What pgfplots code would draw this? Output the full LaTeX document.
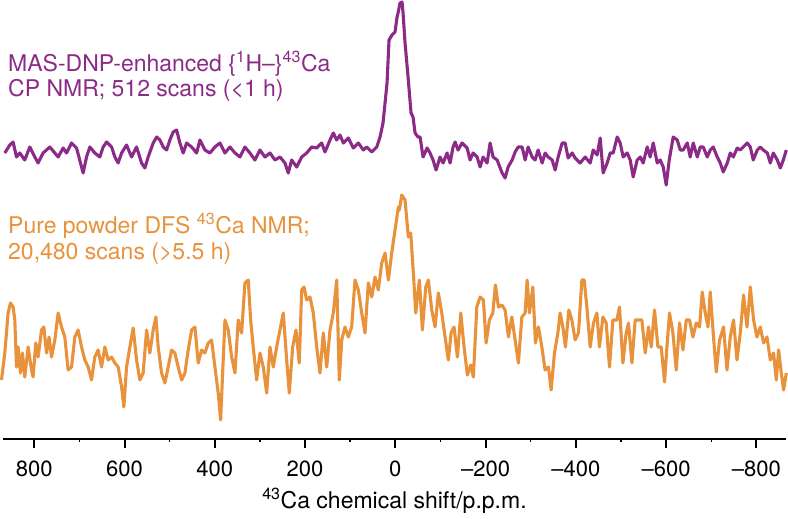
\documentclass[border=0pt]{standalone}
\usepackage{fontspec}
\setmainfont{TeX Gyre Heros}
\usepackage{pgfplots}
\pgfplotsset{compat=1.18}
\definecolor{dnp}{RGB}{140,42,136}
\definecolor{pure}{RGB}{232,146,60}
\begin{document}
\begin{tikzpicture}
\path[use as bounding box] (0,-80pt) rectangle (788pt,439pt);
\begin{axis}[
  at={(3pt,0pt)}, anchor=south west,
  scale only axis, width=783pt, height=439pt,
  x dir=reverse, xmin=-865.6, xmax=869.4, ymin=0, ymax=439,
  clip=false,
  axis x line=bottom, axis y line=none,
  axis line style={-, line width=2pt},
  xtick={800,600,400,200,0,-200,-400,-600,-800},
  xticklabels={800,600,400,200,0,–200,–400,–600,–800},
  minor x tick num=1,
  tick align=outside,
  major tick length=9pt, minor tick length=3pt,
  every major tick/.style={line width=2pt, black},
  every minor tick/.style={line width=1.5pt, black},
  xticklabel style={font=\fontsize{22}{24}\selectfont, anchor=base, yshift=-29pt},
  typeset ticklabels with strut,
  xlabel={\textsuperscript{43}Ca chemical shift/p.p.m.},
  xlabel style={font=\fontsize{23}{25}\selectfont, anchor=base, at={(axis description cs:0.5,0)}, yshift=-70pt},
  line join=round,
]
\addplot[dnp, line width=3.1pt] coordinates {
(865.4,286)(854.3,294)(847.0,297)(839.5,282)(832.2,286)(821.1,279)(810.0,292)(798.9,282)(791.6,276)(780.5,286)
(765.6,292)(754.5,286)(747.2,282)(736.1,291)(728.6,286)(717.5,296)(706.4,291)(695.3,272)(691.8,266)(684.3,282)
(676.9,292)(665.9,286)(654.8,282)(647.4,292)(639.9,297)(628.8,292)(621.5,282)(614.2,276)(606.6,286)(595.6,294)
(584.5,282)(573.4,292)(562.3,276)(555.0,271)(547.7,282)(536.6,296)(529.0,302)(521.7,299)(514.4,292)(506.9,289)
(499.6,299)(492.2,307)(484.7,309)(477.4,296)(470.1,286)(462.5,296)(451.4,292)(440.4,286)(433.0,299)(422.0,289)
(410.9,286)(399.8,292)(388.7,296)(377.6,286)(366.5,292)(355.4,286)(344.3,282)(333.3,292)(322.2,286)(311.1,279)
(300.0,289)(288.9,282)(277.8,286)(266.7,279)(255.7,282)(244.6,276)(237.3,266)(229.7,279)(218.6,272)(207.5,282)
(196.5,286)(185.4,292)(174.3,291)(163.2,296)(155.9,287)(144.8,299)(137.5,306)(129.9,299)(122.6,304)(115.3,296)
(104.2,301)(93.1,291)(82.0,296)(71.0,289)(63.4,292)(52.3,287)(41.2,292)(33.9,302)(27.3,316)(18.4,356)
(14.0,399)(7.3,404)(0.7,407)(-3.8,422)(-6.0,426)(-10.4,436)(-14.9,437)(-17.1,426)(-21.5,396)(-28.2,362)
(-34.8,326)(-39.2,322)(-43.7,306)(-50.3,302)(-54.8,302)(-61.4,282)(-70.3,291)(-76.9,286)(-83.6,279)(-90.2,269)
(-99.1,282)(-105.8,276)(-114.6,286)(-121.3,276)(-127.9,292)(-132.4,297)(-139.0,289)(-147.9,296)(-159.0,291)(-165.6,279)
(-172.3,286)(-181.2,282)(-187.8,272)(-194.5,282)(-203.3,276)(-210.0,296)(-216.6,282)(-225.5,279)(-236.6,266)(-243.2,261)
(-249.9,272)(-258.8,279)(-265.4,287)(-272.1,292)(-280.9,292)(-287.6,279)(-294.2,292)(-303.1,282)(-309.8,279)(-316.4,289)
(-325.3,276)(-331.9,286)(-338.6,282)(-347.5,279)(-354.1,269)(-360.8,282)(-369.6,296)(-376.3,296)(-382.9,281)(-391.8,286)
(-398.4,281)(-409.5,276)(-420.6,282)(-431.7,276)(-438.4,289)(-447.2,284)(-453.9,301)(-460.5,266)(-469.4,276)(-476.1,286)
(-482.7,286)(-491.6,302)(-498.2,296)(-504.9,282)(-513.7,286)(-520.4,279)(-527.0,262)(-535.9,279)(-542.6,282)(-549.2,276)
(-558.1,292)(-564.7,282)(-571.4,296)(-580.3,276)(-586.9,279)(-593.6,272)(-600.2,254)(-606.9,279)(-615.7,302)(-624.6,299)
(-631.3,289)(-637.9,289)(-646.8,296)(-653.4,282)(-660.1,296)(-669.0,282)(-675.6,292)(-682.3,292)(-691.1,282)(-697.8,289)
(-704.4,292)(-713.3,282)(-720.0,276)(-726.6,267)(-735.5,276)(-742.1,286)(-748.8,282)(-757.6,291)(-764.3,289)(-771.0,292)
(-779.8,296)(-786.5,292)(-793.1,279)(-802.0,289)(-808.6,292)(-815.3,289)(-824.2,286)(-830.8,276)(-837.5,286)(-846.3,279)
(-853.0,271)(-859.7,279)(-866.3,289)
};
\addplot[pure, line width=3.1pt] coordinates {
(872.7,59)(865.4,86)(858.1,126)(852.8,136)(847.0,132)(843.2,119)(839.5,72)(835.9,92)(830.6,66)(826.2,86)
(821.1,62)(813.7,92)(806.2,69)(802.7,62)(796.7,96)(791.6,82)(784.0,109)(778.9,112)(772.9,86)(767.2,102)
(761.9,82)(754.5,99)(747.2,126)(739.7,112)(732.4,102)(725.1,69)(717.5,72)(710.2,102)(702.9,109)(695.3,92)
(688.0,79)(680.7,72)(673.2,59)(665.9,82)(658.5,89)(651.0,72)(643.7,92)(636.4,79)(628.8,82)(621.5,76)
(614.2,72)(606.6,52)(601.6,32)(595.6,72)(588.2,92)(580.9,111)(573.4,79)(566.1,59)(558.8,66)(551.2,109)
(543.9,86)(536.6,109)(530.6,122)(525.5,92)(518.0,66)(510.6,56)(503.3,72)(495.8,89)(488.5,86)(481.2,72)
(473.6,59)(466.3,66)(459.0,89)(451.4,109)(444.1,112)(436.8,76)(429.3,89)(422.0,86)(414.6,96)(407.1,99)
(399.8,72)(392.5,46)(387.1,19)(382.7,66)(377.6,119)(370.3,109)(362.7,82)(355.4,66)(348.1,119)(340.6,106)
(333.3,156)(325.9,159)(320.6,119)(314.9,92)(307.3,59)(300.0,86)(292.7,72)(285.1,46)(277.8,92)(270.5,72)
(263.0,92)(255.7,109)(248.3,126)(240.8,79)(235.0,46)(227.5,92)(220.2,109)(212.9,76)(207.5,149)(202.4,152)
(196.5,139)(189.1,142)(181.8,126)(174.3,92)(167.0,66)(159.6,106)(152.1,72)(144.8,109)(137.5,126)(129.9,159)
(124.2,59)(118.8,99)(111.5,112)(104.2,102)(96.7,112)(89.4,159)(82.0,149)(74.5,126)(67.2,106)(59.9,156)
(52.3,142)(45.0,162)(37.7,149)(30.2,176)(22.8,186)(15.5,159)(8.0,186)(0.7,209)(-6.7,232)(-8.9,229)
(-14.2,244)(-21.5,239)(-28.8,202)(-34.1,206)(-39.9,166)(-45.2,126)(-53.2,159)(-59.9,109)(-67.4,152)(-73.2,159)
(-80.7,129)(-88.0,112)(-95.3,146)(-102.9,126)(-110.2,102)(-117.5,79)(-123.5,106)(-130.2,112)(-137.5,82)(-145.0,126)
(-152.3,92)(-159.6,64)(-167.2,74)(-172.9,62)(-180.5,132)(-187.8,142)(-195.1,139)(-201.1,96)(-208.4,119)(-216.0,126)
(-221.7,154)(-228.4,132)(-235.9,134)(-243.2,129)(-250.6,102)(-258.1,122)(-265.4,99)(-272.7,76)(-280.3,122)(-287.6,126)
(-292.0,159)(-297.1,126)(-304.7,152)(-310.4,96)(-317.1,112)(-324.6,92)(-331.9,69)(-339.2,72)(-345.2,49)(-352.6,86)
(-360.1,106)(-365.2,126)(-371.2,112)(-376.9,92)(-384.5,129)(-391.1,119)(-398.4,99)(-405.8,106)(-413.3,159)(-418.4,159)
(-424.4,132)(-431.7,92)(-439.0,116)(-446.6,126)(-452.3,92)(-459.9,122)(-467.2,116)(-474.5,72)(-482.0,119)(-490.9,119)
(-496.7,132)(-504.2,76)(-511.5,106)(-516.6,116)(-524.2,76)(-531.5,119)(-538.8,119)(-546.3,119)(-553.7,86)(-561.0,112)
(-567.0,92)(-574.3,129)(-581.8,92)(-589.1,92)(-596.5,57)(-601.8,92)(-607.5,126)(-615.1,106)(-622.4,69)(-629.7,116)
(-637.3,89)(-644.6,119)(-651.9,119)(-659.4,102)(-666.7,116)(-674.1,112)(-680.0,147)(-686.7,126)(-692.7,112)(-697.8,147)
(-703.8,109)(-711.1,67)(-718.4,99)(-727.3,112)(-734.8,69)(-742.1,102)(-749.4,119)(-757.0,79)(-764.3,106)(-771.6,144)
(-779.2,112)(-786.5,152)(-793.8,119)(-801.3,102)(-808.6,112)(-816.0,96)(-823.5,102)(-830.8,79)(-838.1,86)(-844.1,59)
(-849.2,89)(-855.2,66)(-860.3,49)(-866.3,66)
};
\end{axis}
\node[anchor=base west, inner sep=0pt, text=dnp, align=left, font=\fontsize{23}{25}\selectfont] at (8pt,342pt)
  {MAS-DNP-enhanced \{\textsuperscript{1}H–\}\textsuperscript{43}Ca\\CP NMR; 512 scans (<1 h)};
\node[anchor=base west, inner sep=0pt, text=pure, align=left, font=\fontsize{23}{26}\selectfont] at (8pt,179pt)
  {Pure powder DFS \textsuperscript{43}Ca NMR;\\20,480 scans (>5.5 h)};
\end{tikzpicture}
\end{document}
